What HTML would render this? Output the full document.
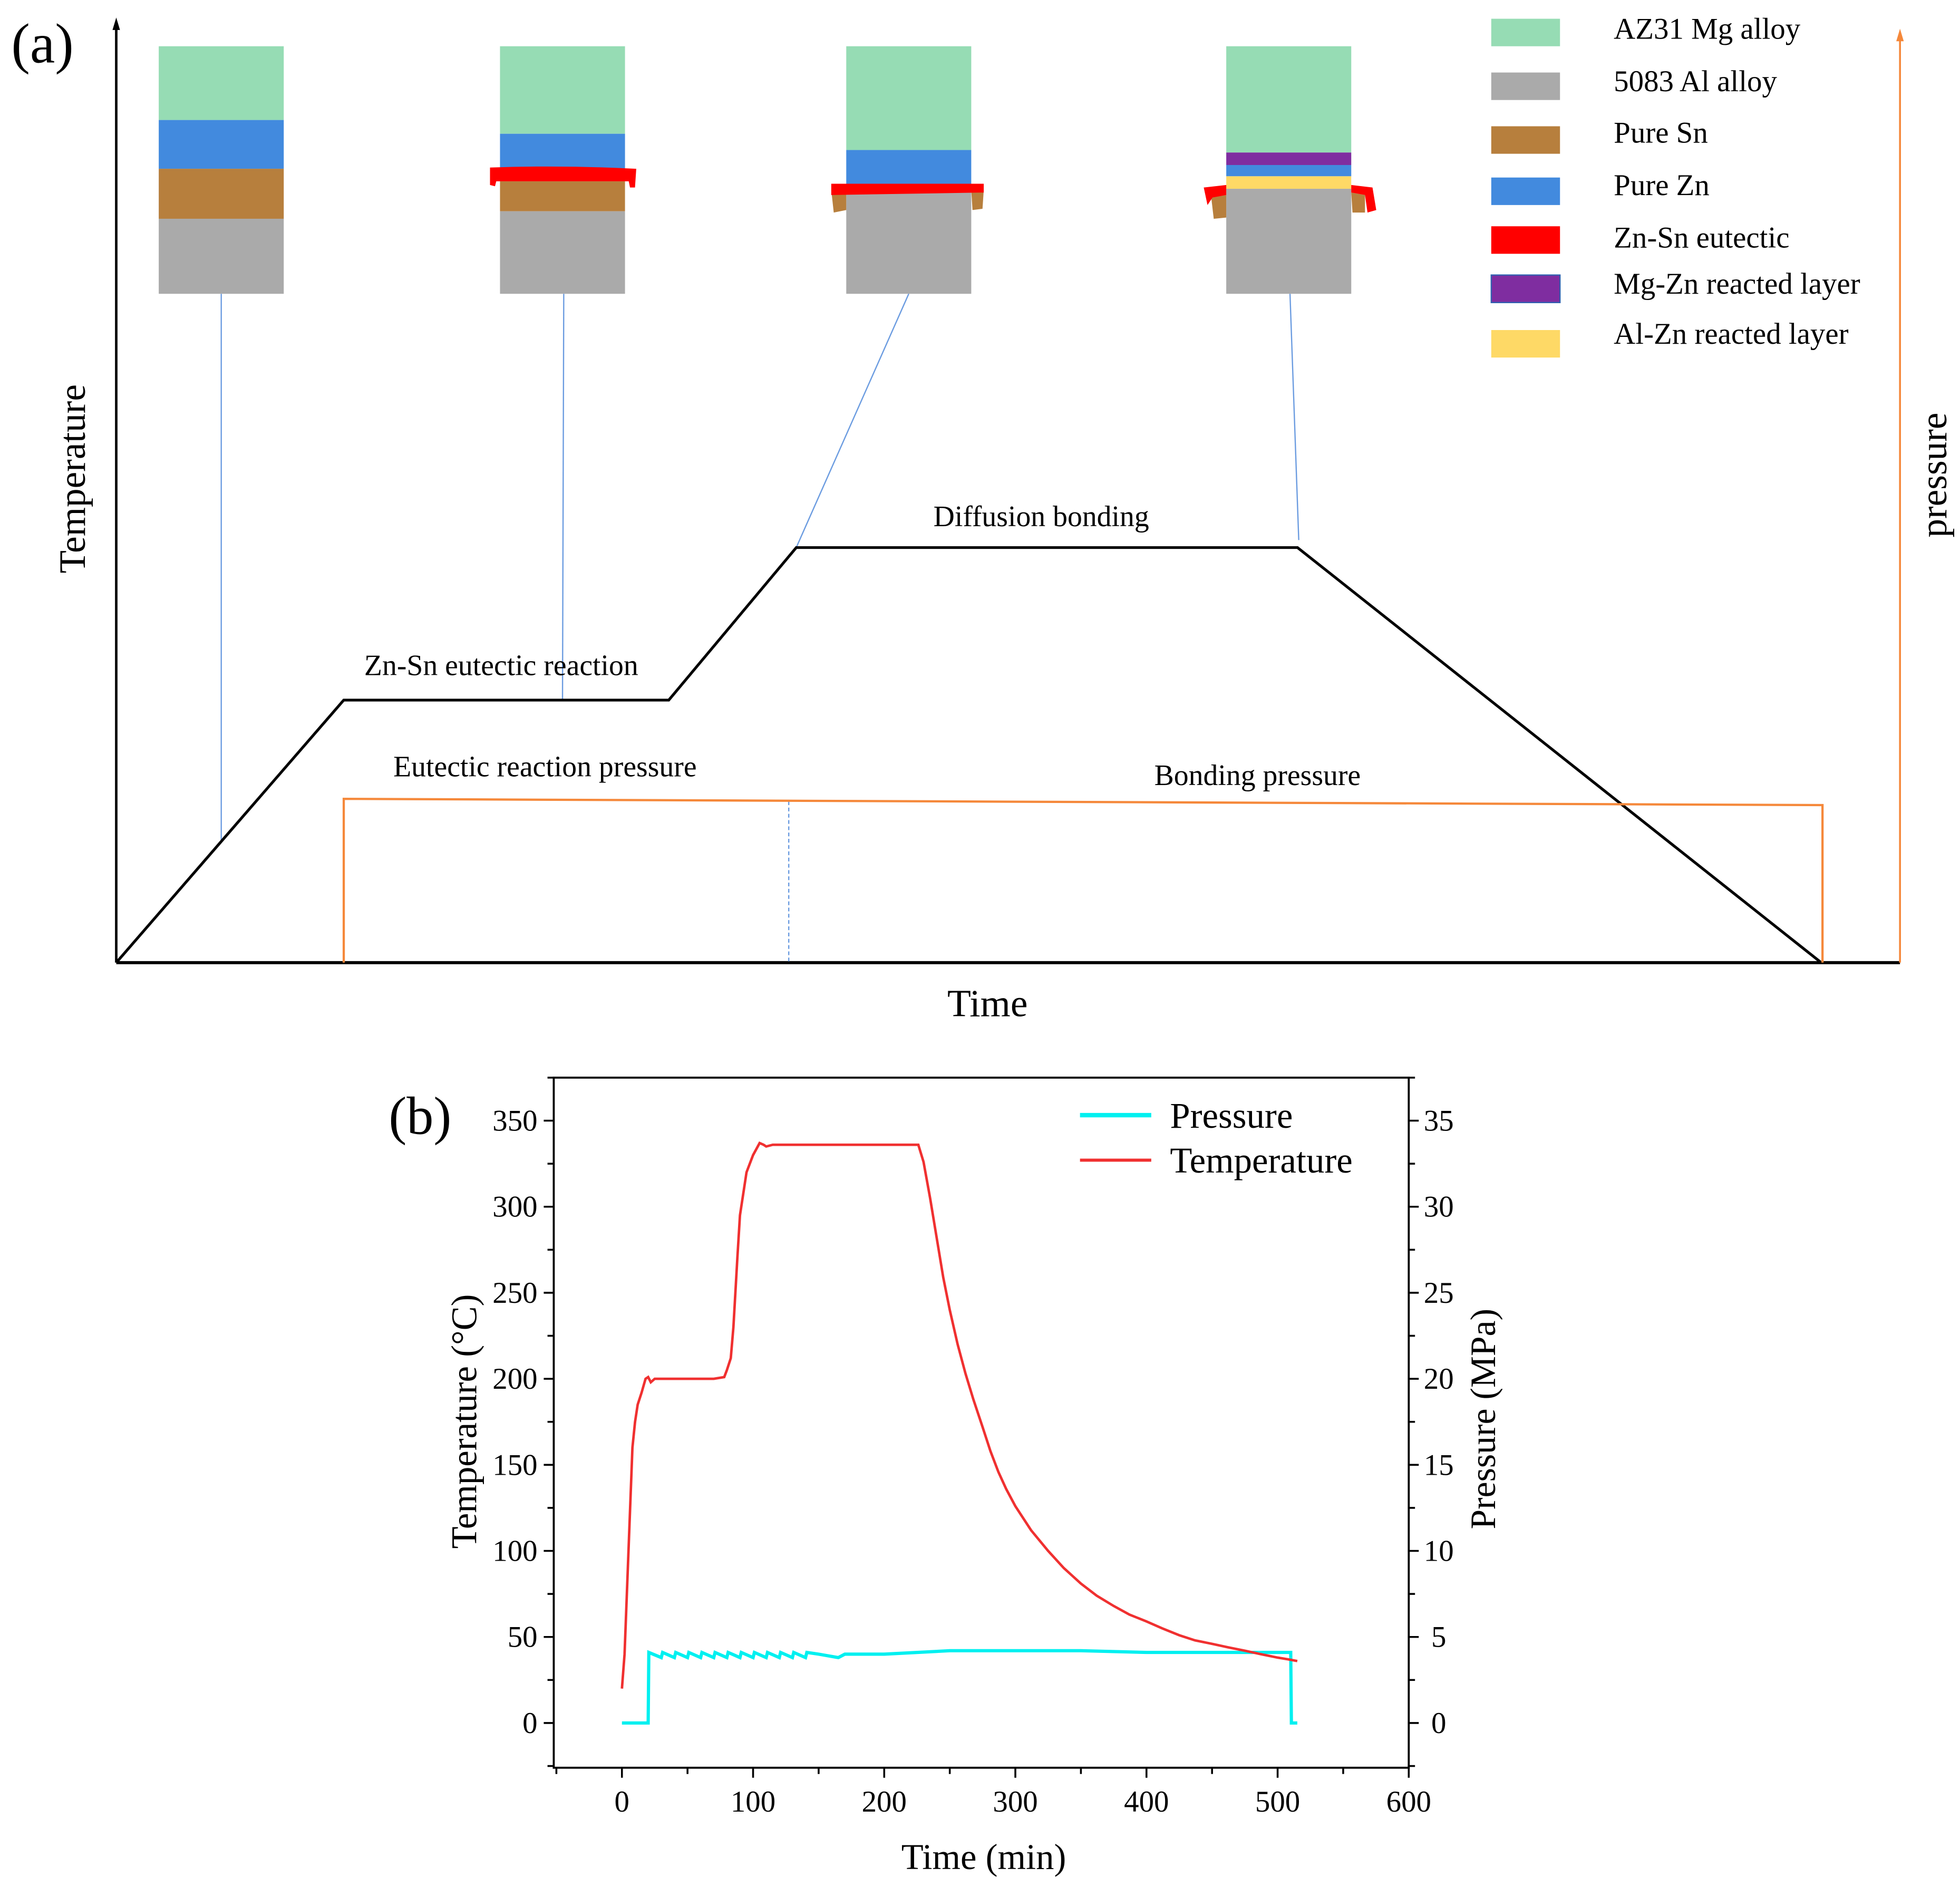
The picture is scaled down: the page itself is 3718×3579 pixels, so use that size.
<!DOCTYPE html>
<html><head><meta charset="utf-8"><style>
html,body{margin:0;padding:0;background:#fff}
svg{display:block}
text{font-family:"Liberation Serif",serif;fill:#000}
</style></head><body>
<svg id="fig" width="3718" height="3579" viewBox="0 0 1568 1509.4" preserveAspectRatio="none">
<g>
  <text x="9" y="50" font-size="45">(a)</text>
  <line x1="93" y1="770" x2="93" y2="22" stroke="#000" stroke-width="2"/>
  <polygon points="93,14 90,24 96,24" fill="#000"/>
  <line x1="93" y1="770" x2="1520" y2="770" stroke="#000" stroke-width="2.5"/>
  <line x1="1520" y1="770" x2="1520" y2="30" stroke="#f5883a" stroke-width="1.5"/>
  <polygon points="1520,23 1517,33 1523,33" fill="#f5883a"/>
  <text transform="translate(68,383) rotate(-90)" text-anchor="middle" font-size="30">Temperature</text>
  <text transform="translate(1557,380) rotate(-90)" text-anchor="middle" font-size="30">pressure</text>
  <text x="790" y="813" text-anchor="middle" font-size="31">Time</text>

  <g stroke="#6a9be0" stroke-width="1">
    <line x1="177" y1="235" x2="177" y2="672"/>
    <line x1="451" y1="235" x2="450" y2="560"/>
    <line x1="727" y1="235" x2="637" y2="438"/>
    <line x1="1032" y1="235" x2="1039" y2="432"/>
  </g>
  <line x1="631" y1="641" x2="631" y2="770" stroke="#6a9be0" stroke-width="1" stroke-dasharray="3,2"/>
  <polyline points="93,770 275,560 535,560 637,438 1038,438 1457,770" fill="none" stroke="#000" stroke-width="2.2"/>
  <polyline points="275,770 275,639 1458,644 1458,770" fill="none" stroke="#f5883a" stroke-width="1.8"/>

  <text x="401" y="540" text-anchor="middle" font-size="23.5">Zn-Sn eutectic reaction</text>
  <text x="833" y="421" text-anchor="middle" font-size="23.5">Diffusion bonding</text>
  <text x="436" y="621" text-anchor="middle" font-size="23.5">Eutectic reaction pressure</text>
  <text x="1006" y="628" text-anchor="middle" font-size="23.5">Bonding pressure</text>

  <g>
    <rect x="127" y="37" width="100" height="59" fill="#96dcb4"/>
    <rect x="127" y="96" width="100" height="39" fill="#428ade"/>
    <rect x="127" y="135" width="100" height="40" fill="#b77f3d"/>
    <rect x="127" y="175" width="100" height="60" fill="#aaaaaa"/>
  </g>
  <g>
    <rect x="400" y="37" width="100" height="70" fill="#96dcb4"/>
    <rect x="400" y="107" width="100" height="28" fill="#428ade"/>
    <rect x="400" y="145" width="100" height="24" fill="#b77f3d"/>
    <rect x="400" y="169" width="100" height="66" fill="#aaaaaa"/>
    <path d="M392,134 Q450,132 509,135 L508,150 L504,150 L503,145 L397,145 L396,149 L392,148 Z" fill="#ff0000"/>
  </g>
  <g>
    <rect x="677" y="37" width="100" height="83" fill="#96dcb4"/>
    <rect x="677" y="120" width="100" height="28" fill="#428ade"/>
    <rect x="677" y="152" width="100" height="83" fill="#aaaaaa"/>
    <path d="M665,152 L677,152 L677,168 L667,170 Z" fill="#b77f3d"/>
    <path d="M777,152 L787,152 L786,167 L778,168 Z" fill="#b77f3d"/>
    <path d="M665,147 L787,147 L787,154 L665,156 Z" fill="#ff0000"/>
  </g>
  <g>
    <rect x="981" y="37" width="100" height="85" fill="#96dcb4"/>
    <rect x="981" y="122" width="100" height="10" fill="#7f2da0"/>
    <rect x="981" y="132" width="100" height="9" fill="#428ade"/>
    <rect x="981" y="141" width="100" height="10" fill="#fed966"/>
    <rect x="981" y="151" width="100" height="84" fill="#aaaaaa"/>
    <path d="M969,158 L981,156 L981,174 L971,175 Z" fill="#b77f3d"/>
    <path d="M1081,154 L1092,156 L1092,170 L1082,170 Z" fill="#b77f3d"/>
    <path d="M963,150 L981,148 L981,156 L970,158 L966,164 Z" fill="#ff0000"/>
    <path d="M1081,148 L1098,150 L1101,168 L1094,170 L1092,156 L1081,154 Z" fill="#ff0000"/>
  </g>

  <g>
    <rect x="1193" y="15" width="55" height="22" fill="#96dcb4"/><text x="1291" y="31" font-size="24">AZ31 Mg alloy</text>
    <rect x="1193" y="58" width="55" height="22" fill="#aaaaaa"/><text x="1291" y="73" font-size="24">5083 Al alloy</text>
    <rect x="1193" y="101" width="55" height="22" fill="#b77f3d"/><text x="1291" y="114" font-size="24">Pure Sn</text>
    <rect x="1193" y="142" width="55" height="22" fill="#428ade"/><text x="1291" y="156" font-size="24">Pure Zn</text>
    <rect x="1193" y="181" width="55" height="22" fill="#ff0000"/><text x="1291" y="198" font-size="24">Zn-Sn eutectic</text>
    <rect x="1193" y="220" width="55" height="22" fill="#7f2da0" stroke="#3060b0" stroke-width="1"/><text x="1291" y="235" font-size="24">Mg-Zn reacted layer</text>
    <rect x="1193" y="264" width="55" height="22" fill="#fed966"/><text x="1291" y="275" font-size="24">Al-Zn reacted layer</text>
  </g>
</g>
<g id="panelb"></g>
</svg>
<script>
const tempTime = [0,2,5,8,10,12,15,18,20,22,25,30,50,70,78,80,83,85,88,90,93,95,100,105,108,110,115,150,200,226,230,235,240,245,250,256,262,268,275,281,287,293,300,312,325,337,350,362,375,387,400,412,425,437,450,462,475,487,500,508,515];
const tempValues = [20,40,100,160,175,185,192,200,201,198,200,200,200,200,201,205,212,230,270,295,310,320,330,337,336,335,336,336,336,336,326,305,282,259,240,220,203,188,172,158,146,136,126,112,100,90,81,74,68,63,59,55,51,48,46,44,42,40,38,37,36];
const presTime = [0,20,20.5,30,31,40,41,50,51,60,61,70,71,80,81,90,91,100,101,110,111,120,121,130,131,140,141,150,165,170,200,250,300,350,400,510,510.5,515];
const presValues = [0,0,4.1,3.8,4.1,3.8,4.1,3.8,4.1,3.8,4.1,3.8,4.1,3.8,4.1,3.8,4.1,3.8,4.1,3.8,4.1,3.8,4.1,3.8,4.1,3.8,4.1,4.0,3.8,4.0,4.0,4.2,4.2,4.2,4.1,4.1,0,0];
const xTicks = [0,100,200,300,400,500,600];
const yTicks = [0,50,100,150,200,250,300,350];
const y2Ticks = [0,5,10,15,20,25,30,35];

const NS = "http://www.w3.org/2000/svg";
const g = document.getElementById('panelb');
const L=443,R=1127,T=862,B=1414;
const xMin=-52,xMax=600,yMin=-26,yMax=375;
const sx=v=>L+(v-xMin)/(xMax-xMin)*(R-L);
const sy=v=>B-(v-yMin)/(yMax-yMin)*(B-T);
const sy2=v=>sy(v*10);
function mk(tag,attrs,parent){const e=document.createElementNS(NS,tag);for(const k in attrs)e.setAttribute(k,attrs[k]);(parent||g).appendChild(e);return e;}

const frame=mk('rect',{x:L,y:T,width:R-L,height:B-T,fill:'none',stroke:'#000','stroke-width':1.6});



for(let v=-50;v<=600;v+=50){
  const major=v%100===0;
  const t=mk('line',{x1:sx(v),x2:sx(v),y1:B,y2:B+(major?8:5),stroke:'#000','stroke-width':1.5});
  
  
}
xTicks.forEach(v=>{
  const t=mk('text',{x:sx(v),y:B+35,'text-anchor':'middle','font-size':24});
  t.textContent=v;
  
  
});
for(let v=-25;v<=375;v+=25){
  const major=v%50===0;
  const a=mk('line',{x1:L,x2:L-(major?8:5),y1:sy(v),y2:sy(v),stroke:'#000','stroke-width':1.5});
  
  
  const b=mk('line',{x1:R,x2:R+(major?8:5),y1:sy(v),y2:sy(v),stroke:'#000','stroke-width':1.5});
  
  
}
yTicks.forEach(v=>{
  const t=mk('text',{x:L-13,y:sy(v)+8,'text-anchor':'end','font-size':24});
  t.textContent=v;
  
  
});
y2Ticks.forEach(v=>{
  const t=mk('text',{x:R+24,y:sy2(v)+8,'text-anchor':'middle','font-size':24});
  t.textContent=v;
  
  
});

const yt=mk('text',{transform:'translate(381,1137) rotate(-90)','text-anchor':'middle','font-size':29});
yt.textContent='Temperature (°C)';


const y2t=mk('text',{transform:'translate(1196,1135) rotate(-90)','text-anchor':'middle','font-size':28.5});
y2t.textContent='Pressure (MPa)';


const xt=mk('text',{x:787,y:1495,'text-anchor':'middle','font-size':29});
xt.textContent='Time (min)';


const pl=mk('text',{x:311,y:907,'font-size':43});
pl.textContent='(b)';



const presLine=mk('polyline',{points:presTime.map((t,i)=>sx(t)+','+sy2(presValues[i])).join(' '),fill:'none',stroke:'#00f0f0','stroke-width':2.6});


const tempLine=mk('polyline',{points:tempTime.map((t,i)=>sx(t)+','+sy(tempValues[i])).join(' '),fill:'none',stroke:'#f03030','stroke-width':2});



const l1=mk('line',{x1:864,x2:921,y1:892,y2:892,stroke:'#00f0f0','stroke-width':3.5});


const t1=mk('text',{x:936,y:902,'font-size':29});
t1.textContent='Pressure';


const l2=mk('line',{x1:864,x2:921,y1:928,y2:928,stroke:'#f03030','stroke-width':2.5});


const t2=mk('text',{x:936,y:938,'font-size':29});
t2.textContent='Temperature';


</script>
</body></html>
